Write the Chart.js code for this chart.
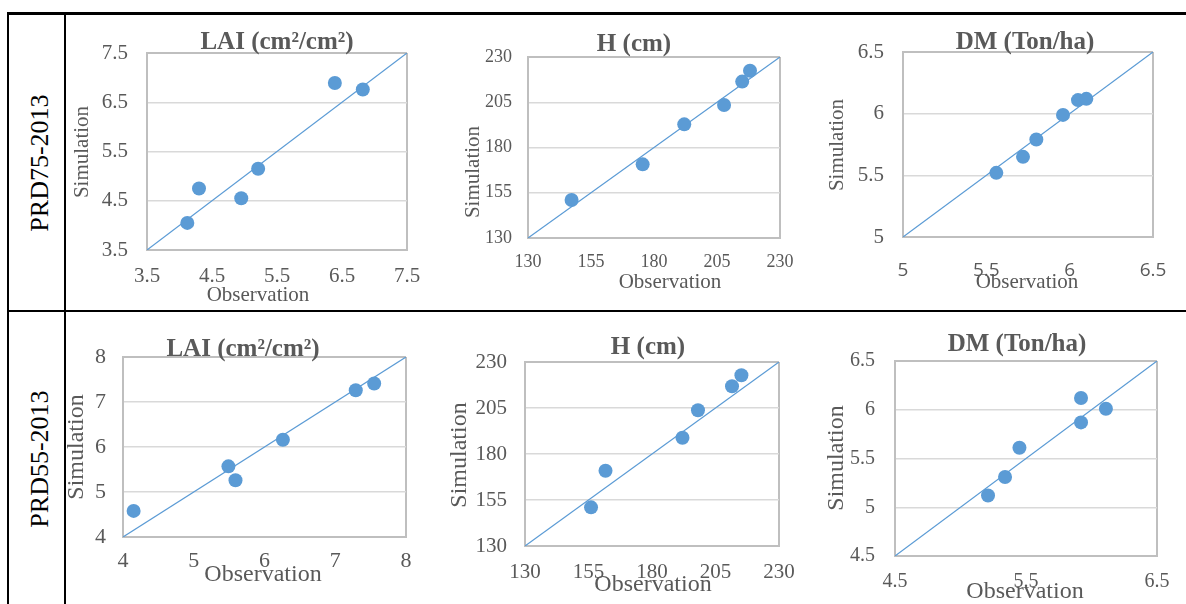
<!DOCTYPE html>
<html>
<head>
<meta charset="utf-8">
<script src="https://cdn.jsdelivr.net/npm/chart.js@4.4.1/dist/chart.umd.min.js"></script>
<style>
  html, body { margin: 0; padding: 0; background: #fff; }
  body { width: 1186px; height: 604px; position: relative; overflow: hidden; font-family: "Liberation Serif", "Times New Roman", serif; }
  .ln { position: absolute; background: #000; }
  .row { position: absolute; left: 40px; font-size: 26px; color: #000; white-space: nowrap; transform: translate(-50%, -50%) rotate(-90deg); }
  canvas { position: absolute; }
</style>
</head>
<body>
<div class="ln" style="left:7px;top:12px;width:1179px;height:3px"></div>
<div class="ln" style="left:7px;top:310px;width:1179px;height:2px"></div>
<div class="ln" style="left:7px;top:12px;width:2px;height:592px"></div>
<div class="ln" style="left:64px;top:12px;width:2px;height:592px"></div>
<div class="row" style="top:163px">PRD75-2013</div>
<div class="row" style="top:459px">PRD55-2013</div>

<script>
// ── DATA (observation vs simulation) ──
// PRD75-2013
const laiObs75 = [6.39, 6.82, 5.21, 4.30, 4.95, 4.12];
const laiSim75 = [6.89, 6.76, 5.15, 4.75, 4.55, 4.05];
const hObs75 = [147.3, 175.5, 192.0, 207.8, 215.0, 218.1];
const hSim75 = [151.0, 170.7, 192.8, 203.5, 216.4, 222.4];
const dmObs75 = [5.56, 5.72, 5.80, 5.96, 6.05, 6.10];
const dmSim75 = [5.52, 5.65, 5.79, 5.99, 6.11, 6.12];
// PRD55-2013
const laiObs55 = [4.15, 5.49, 5.59, 6.26, 7.29, 7.55];
const laiSim55 = [4.58, 5.57, 5.26, 6.16, 7.26, 7.41];
const hObs55 = [156.0, 161.7, 192.0, 198.1, 211.5, 215.2];
const hSim55 = [151.0, 170.9, 188.8, 203.8, 216.8, 222.8];
const dmObs55 = [5.21, 5.34, 5.45, 5.92, 5.92, 6.11];
const dmSim55 = [5.12, 5.31, 5.61, 6.12, 5.87, 6.01];

// tick labels
const laiTicks75 = [3.5, 4.5, 5.5, 6.5, 7.5];
const laiTicks55 = [4, 5, 6, 7, 8];
const hTicks = [130, 155, 180, 205, 230];
const dmTicks75 = [5, 5.5, 6, 6.5];
const dmTicks55Y = [4.5, 5, 5.5, 6, 6.5];
const dmTicks55X = [4.5, 5.5, 6.5];

// ── STYLE ──
const FRAME = '#bfbfbf', GRID = '#d9d9d9', INK = '#595959', DOT = '#5b9bd5';
const SERIF = '"Liberation Serif", "Times New Roman", serif';
const SANS = '"Open Sans", sans-serif';
const PAD = { l: 100, t: 60, r: 15, b: 70 };

// plot boxes and label spots in page pixels
const panels = [
  { obs: laiObs75, sim: laiSim75, xTicks: laiTicks75, yTicks: laiTicks75, title: 'LAI (cm²/cm²)',
    area: [147, 53, 407, 250], titleAt: [277, 43], obsAt: [258, 295], simAt: [82, 152],
    tickSize: 21, labelSize: 21, yPad: 19, xPad: 14 },
  { obs: hObs75, sim: hSim75, xTicks: hTicks, yTicks: hTicks, title: 'H (cm)',
    area: [528, 57, 780, 238], titleAt: [634, 45], obsAt: [670, 282], simAt: [473, 172],
    tickSize: 18, labelSize: 21, yPad: 16, xPad: 13 },
  { obs: dmObs75, sim: dmSim75, xTicks: dmTicks75, yTicks: dmTicks75, title: 'DM (Ton/ha)',
    area: [903, 52, 1153, 237], titleAt: [1025, 43], obsAt: [1027, 282], simAt: [837, 145],
    tickSize: 21, labelSize: 21, yPad: 19, xPad: 22, xFont: SANS, xSize: 19 },
  { obs: laiObs55, sim: laiSim55, xTicks: laiTicks55, yTicks: laiTicks55, title: 'LAI (cm²/cm²)',
    area: [123, 357, 406, 537], titleAt: [243, 350], obsAt: [263, 575], simAt: [77, 447],
    tickSize: 22, labelSize: 24, yPad: 17, xPad: 11 },
  { obs: hObs55, sim: hSim55, xTicks: hTicks, yTicks: hTicks, title: 'H (cm)',
    area: [525, 362, 779, 546], titleAt: [648, 348], obsAt: [653, 585], simAt: [460, 455],
    tickSize: 21, labelSize: 24, yPad: 18, xPad: 14 },
  { obs: dmObs55, sim: dmSim55, xTicks: dmTicks55X, yTicks: dmTicks55Y, title: 'DM (Ton/ha)',
    area: [895, 361, 1157, 556], titleAt: [1017, 345], obsAt: [1025, 592], simAt: [837, 458],
    tickSize: 20, labelSize: 24, yPad: 20, xPad: 14 },
];

// ── TEXT PLUGIN (chart title + axis names) ──
function panelText(p, left, top) {
  return {
    id: 'panelText',
    afterDraw(chart) {
      const ctx = chart.ctx;
      ctx.save();
      ctx.fillStyle = INK;
      ctx.textAlign = 'center';
      ctx.textBaseline = 'middle';
      ctx.font = `bold 25px ${SERIF}`;
      ctx.fillText(p.title, p.titleAt[0] - left, p.titleAt[1] - top);
      ctx.font = `${p.labelSize}px ${SERIF}`;
      ctx.fillText('Observation', p.obsAt[0] - left, p.obsAt[1] - top);
      ctx.translate(p.simAt[0] - left, p.simAt[1] - top);
      ctx.rotate(-Math.PI / 2);
      ctx.fillText('Simulation', 0, 0);
      ctx.restore();
    }
  };
}

const isEdge = (c, t) => c.tick && (c.tick.value === t[0] || c.tick.value === t[t.length - 1]);

// ── CHARTS ──
panels.forEach(p => {
  const [x0, y0, x1, y1] = p.area;
  const left = x0 - PAD.l, top = y0 - PAD.t;
  const cv = document.createElement('canvas');
  cv.width = x1 - x0 + PAD.l + PAD.r;
  cv.height = y1 - y0 + PAD.t + PAD.b;
  cv.style.left = left + 'px';
  cv.style.top = top + 'px';
  document.body.appendChild(cv);

  const lo = p.yTicks[0], hi = p.yTicks[p.yTicks.length - 1];

  new Chart(cv, {
    type: 'scatter',
    data: {
      datasets: [
        { data: p.obs.map((v, k) => ({ x: v, y: p.sim[k] })), backgroundColor: DOT, borderWidth: 0, pointRadius: 7, pointHoverRadius: 7 },
        { data: [{ x: lo, y: lo }, { x: hi, y: hi }], showLine: true, borderColor: DOT, borderWidth: 1.2, pointRadius: 0 }
      ]
    },
    options: {
      responsive: false,
      animation: false,
      events: [],
      layout: { padding: { left: 0, top: PAD.t, right: PAD.r, bottom: 0 } },
      plugins: { legend: { display: false }, tooltip: { enabled: false } },
      scales: {
        x: {
          type: 'linear', min: p.xTicks[0], max: p.xTicks[p.xTicks.length - 1],
          afterBuildTicks: s => { s.ticks = p.xTicks.map(v => ({ value: v })); },
          afterFit: s => { s.height = PAD.b; s.paddingLeft = 0; s.paddingRight = 0; },
          grid: { drawTicks: false, color: c => isEdge(c, p.xTicks) ? FRAME : 'transparent', lineWidth: 2 },
          border: { color: FRAME, width: 2 },
          ticks: { autoSkip: false, maxRotation: 0, minRotation: 0, padding: p.xPad, color: INK,
                   font: { family: p.xFont || SERIF, size: p.xSize || p.tickSize }, callback: v => String(v) }
        },
        y: {
          type: 'linear', min: lo, max: hi,
          afterBuildTicks: s => { s.ticks = p.yTicks.map(v => ({ value: v })); },
          afterFit: s => { s.width = PAD.l; s.paddingTop = 0; s.paddingBottom = 0; },
          grid: { drawTicks: false, color: c => isEdge(c, p.yTicks) ? FRAME : GRID, lineWidth: c => isEdge(c, p.yTicks) ? 2 : 1.5 },
          border: { color: FRAME, width: 2 },
          ticks: { autoSkip: false, padding: p.yPad, color: INK,
                   font: { family: SERIF, size: p.tickSize }, callback: v => String(v) }
        }
      }
    },
    plugins: [panelText(p, left, top)]
  });
});
</script>
</body>
</html>
